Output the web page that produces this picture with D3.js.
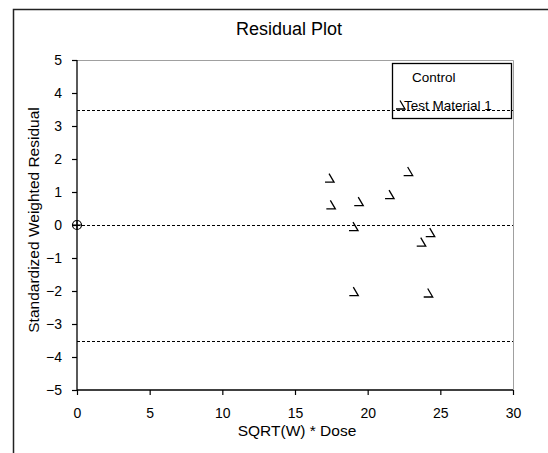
<!DOCTYPE html>
<html>
<head>
<meta charset="utf-8">
<script src="https://cdn.jsdelivr.net/npm/d3@7"></script>
<style>
  html, body { margin: 0; padding: 0; background: #fff; }
  svg { display: block; font-family: "Liberation Sans", Arial, sans-serif; }
</style>
</head>
<body>
<svg id="chart" width="548" height="453"></svg>
<script>
// Residuals per group
const controlX = [0];
const controlY = [0];
const testX = [17.41, 22.82, 21.54, 17.50, 19.42, 19.06, 24.34, 23.72, 19.08, 24.20];
const testY = [1.42, 1.62, 0.92, 0.61, 0.71, -0.05, -0.23, -0.52, -2.02, -2.06];
const refLines = [3.5, 0, -3.5];
const xTicks = [0, 5, 10, 15, 20, 25, 30];
const yTicks = [-5, -4, -3, -2, -1, 0, 1, 2, 3, 4, 5];
const seriesNames = ["Control", "Test Material 1"];

const svg = d3.select("#chart");
const m = { left: 77, top: 60, right: 513, bottom: 390 };

const x = d3.scaleLinear().domain([0, 30]).range([m.left, m.right]);
const y = d3.scaleLinear().domain([-5, 5]).range([m.bottom, m.top]);

// outer frame (left and top edges)
svg.append("path")
  .attr("d", "M13.5,453 L13.5,9.5 L548,9.5")
  .attr("fill", "none").attr("stroke", "#222").attr("stroke-width", 1.5);

// title
svg.append("text").attr("x", 289).attr("y", 35)
  .attr("text-anchor", "middle").attr("font-size", 18).text("Residual Plot");

// plot area top/right border
svg.append("path")
  .attr("d", `M${m.left},${m.top + 0.5} L${m.right + 0.5},${m.top + 0.5} L${m.right + 0.5},${m.bottom}`)
  .attr("fill", "none").attr("stroke", "#a0a0a0").attr("stroke-width", 1);

// axes
const yAxis = d3.axisLeft(y).tickValues(yTicks).tickSize(5).tickPadding(10).tickFormat(d3.format("d"));
const xAxis = d3.axisBottom(x).tickValues(xTicks).tickSize(5).tickPadding(13).tickFormat(d3.format("d"));

const gy = svg.append("g").attr("transform", `translate(${m.left},0)`).call(yAxis);
const gx = svg.append("g").attr("transform", `translate(0,${m.bottom})`).call(xAxis);
[gx, gy].forEach(g => {
  g.select(".domain").attr("stroke", "#000").attr("stroke-width", 1.3);
  g.selectAll(".tick line").attr("stroke", "#000").attr("stroke-width", 1.2);
  g.selectAll(".tick text").attr("font-size", 14).attr("fill", "#000")
    .attr("font-family", "Liberation Sans, Arial, sans-serif");
});
gy.select(".domain").attr("d", `M0,${m.top}V${m.bottom}`);
gx.select(".domain").attr("d", `M${m.left},0H${m.right}`);

// axis titles
svg.append("text").attr("x", 297).attr("y", 436)
  .attr("text-anchor", "middle").attr("font-size", 15.5).text("SQRT(W) * Dose");
svg.append("text")
  .attr("transform", `translate(39,220) rotate(-90)`)
  .attr("text-anchor", "middle").attr("font-size", 15.5).text("Standardized Weighted Residual");

// legend box
const legend = svg.append("g");
legend.append("rect").attr("x", 392.5).attr("y", 63.5).attr("width", 119).attr("height", 55)
  .attr("fill", "#fff").attr("stroke", "#000").attr("stroke-width", 1.3);
legend.append("text").attr("x", 412).attr("y", 82).attr("font-size", 13.5).text(seriesNames[0]);
legend.append("text").attr("x", 404).attr("y", 110).attr("font-size", 13.5).text(seriesNames[1]);

// reference lines
svg.append("g").selectAll("line").data(refLines).join("line")
  .attr("x1", m.left).attr("x2", m.right)
  .attr("y1", d => Math.round(y(d)) + 0.5).attr("y2", d => Math.round(y(d)) + 0.5)
  .attr("stroke", "#000").attr("stroke-width", 1).attr("stroke-dasharray", "3,2");

// marker shape for test material
const tickMark = "M-1,-4.5 L4,4 L-5,4";

legend.append("path").attr("d", tickMark)
  .attr("transform", "translate(401,105)")
  .attr("fill", "none").attr("stroke", "#000").attr("stroke-width", 1.3);

// control point
const ctrl = svg.append("g").selectAll("g").data(controlX.map((d, i) => [d, controlY[i]])).join("g")
  .attr("transform", d => `translate(${x(d[0])},${y(d[1])})`);
ctrl.append("circle").attr("r", 4.5).attr("fill", "none").attr("stroke", "#000").attr("stroke-width", 1.2);
ctrl.append("path").attr("d", "M-4.5,0H4.5M0,-4.5V4.5").attr("stroke", "#000").attr("stroke-width", 1.2);

// test material points
svg.append("g").selectAll("path").data(testX.map((d, i) => [d, testY[i]])).join("path")
  .attr("d", tickMark)
  .attr("transform", d => `translate(${x(d[0])},${y(d[1])})`)
  .attr("fill", "none").attr("stroke", "#000").attr("stroke-width", 1.3);
</script>
</body>
</html>
